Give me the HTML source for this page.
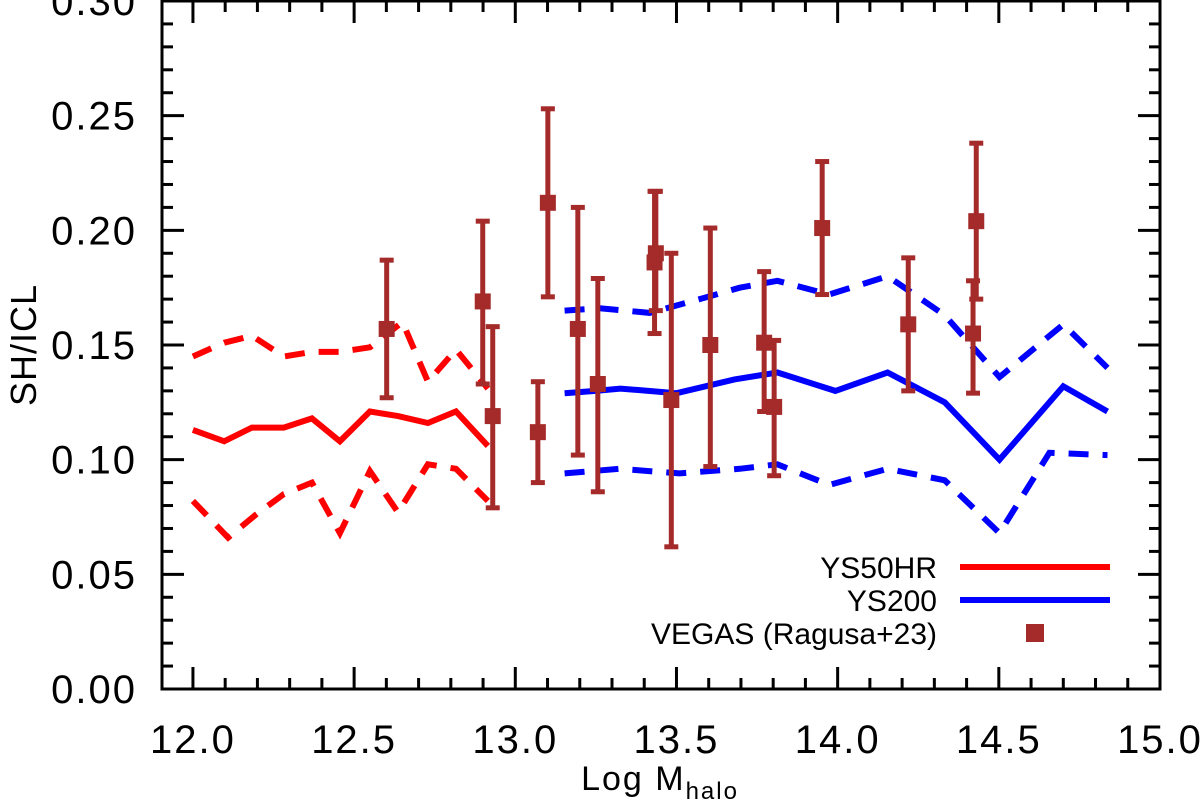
<!DOCTYPE html>
<html><head><meta charset="utf-8"><style>
html,body{margin:0;padding:0;background:#fff;}
svg{display:block;font-family:"Liberation Sans","DejaVu Sans",sans-serif;}
</style></head><body>
<svg id="chart" width="1200" height="804" viewBox="0 0 1200 804" xmlns="http://www.w3.org/2000/svg">
<g id="grid"></g>
<g id="series"></g>
<rect x="162" y="1" width="998" height="688" fill="none" stroke="#000" stroke-width="3"/>
<g id="ticks"></g>
<text x="0" y="0" transform="translate(36,345) rotate(-90)" text-anchor="middle" font-size="36" letter-spacing="1">SH/ICL</text>
<text x="660" y="790" text-anchor="middle" font-size="34" letter-spacing="2">Log M<tspan font-size="24" dy="9">halo</tspan></text>
<g>
<text x="937" y="578" text-anchor="end" font-size="30">YS50HR</text>
<line x1="960" y1="567" x2="1110" y2="567" stroke="#ff0000" stroke-width="6"/>
<text x="937" y="611" text-anchor="end" font-size="30">YS200</text>
<line x1="960" y1="600" x2="1110" y2="600" stroke="#0000ff" stroke-width="6"/>
<text x="937" y="644" text-anchor="end" font-size="30">VEGAS (Ragusa+23)</text>
<rect x="1026" y="624" width="18" height="18" fill="#a52a2a"/>
</g>
</svg>
<script>
const xTicks=[12.0,12.5,13.0,13.5,14.0,14.5,15.0];
const xTickLabels=["12.0","12.5","13.0","13.5","14.0","14.5","15.0"];
const yTicks=[0,0.05,0.10,0.15,0.20,0.25,0.30];
const yTickLabels=["0.00","0.05","0.10","0.15","0.20","0.25","0.30"];

const redX=[12.0,12.097,12.183,12.282,12.369,12.456,12.549,12.636,12.729,12.816,12.915];
const redMid=[0.113,0.108,0.114,0.114,0.118,0.108,0.121,0.119,0.116,0.121,0.106];
const redHiX=[12.0,12.097,12.183,12.282,12.369,12.456,12.549,12.65,12.729,12.816,12.915];
const redHi=[0.145,0.151,0.154,0.145,0.147,0.147,0.149,0.160,0.134,0.148,0.131];
const redLoX=[12.0,12.109,12.195,12.282,12.369,12.456,12.549,12.636,12.729,12.816,12.915];
const redLo=[0.082,0.066,0.076,0.085,0.090,0.068,0.095,0.077,0.098,0.096,0.082];

const blueX=[13.153,13.249,13.326,13.413,13.5,13.59,13.68,13.813,13.993,14.155,14.332,14.502,14.70,14.837];
const blueMid=[0.129,0.130,0.131,0.130,0.129,0.132,0.135,0.138,0.130,0.138,0.125,0.100,0.132,0.121];
const blueHiX=[13.153,13.262,13.417,13.572,13.696,13.813,13.974,14.155,14.332,14.502,14.70,14.837];
const blueHi=[0.165,0.166,0.164,0.170,0.175,0.178,0.172,0.180,0.163,0.136,0.159,0.140];
const blueLoX=[13.153,13.323,13.509,13.696,13.813,13.974,14.155,14.332,14.502,14.657,14.837];
const blueLo=[0.094,0.096,0.094,0.096,0.098,0.089,0.096,0.091,0.068,0.103,0.102];

const obsX=[12.601,12.899,12.93,13.07,13.101,13.194,13.256,13.432,13.436,13.484,13.605,13.772,13.803,13.952,14.219,14.42,14.43];
const obsY=[0.157,0.169,0.119,0.112,0.212,0.157,0.133,0.186,0.190,0.126,0.150,0.151,0.123,0.201,0.159,0.155,0.204];
const obsLo=[0.127,0.133,0.079,0.090,0.171,0.102,0.086,0.155,0.165,0.062,0.097,0.121,0.093,0.172,0.130,0.129,0.170];
const obsHi=[0.187,0.204,0.158,0.134,0.253,0.210,0.179,0.217,0.217,0.190,0.201,0.182,0.152,0.230,0.188,0.178,0.238];

const NS="http://www.w3.org/2000/svg";
const X0=162,X1=1160,Y0=689,Y1=1,XMIN=11.904,XMAX=15.0,YMIN=0,YMAX=0.30;
function sx(v){return X0+(v-XMIN)/(XMAX-XMIN)*(X1-X0);}
function sy(v){return Y0-(v-YMIN)/(YMAX-YMIN)*(Y0-Y1);}
function mk(tag,attrs,parent){const e=document.createElementNS(NS,tag);for(const k in attrs)e.setAttribute(k,attrs[k]);parent.appendChild(e);return e;}
const ticks=document.getElementById('ticks'),series=document.getElementById('series');

for(let i=0;i<=31;i++){const v=11.9+i*0.1;if(v<XMIN-1e-6||v>XMAX+1e-6)continue;
 const major=Math.abs(v*2-Math.round(v*2))<1e-6;const L=major?22:11;const x=sx(v);
 const t=mk('line',{x1:x,x2:x,y1:Y0,y2:Y0-L,stroke:'#000','stroke-width':3},ticks);
 
 
 const t2=mk('line',{x1:x,x2:x,y1:Y1,y2:Y1+L,stroke:'#000','stroke-width':3},ticks);
 
 }
xTicks.forEach((v,i)=>{const t=mk('text',{x:sx(v),y:753,'text-anchor':'middle','font-size':40,'letter-spacing':2},ticks);t.textContent=xTickLabels[i];
 
 });
for(let i=0;i<=30;i++){const v=i*0.01;const major=i%5===0;const L=major?22:11;const y=sy(v);
 const t=mk('line',{x1:X0,x2:X0+L,y1:y,y2:y,stroke:'#000','stroke-width':3},ticks);
 
 
 const t2=mk('line',{x1:X1,x2:X1-L,y1:y,y2:y,stroke:'#000','stroke-width':3},ticks);
 
 }
yTicks.forEach((v,i)=>{const t=mk('text',{x:137,y:sy(v)+14,'text-anchor':'end','font-size':40,'letter-spacing':2},ticks);t.textContent=yTickLabels[i];
 
 });

function line(xs,ys,color,dash,name){const p=xs.map((x,i)=>sx(x).toFixed(1)+','+sy(ys[i]).toFixed(1)).join(' ');
 const e=mk('polyline',{points:p,fill:'none',stroke:color,'stroke-width':6,'stroke-linejoin':'miter'},series);
 if(dash)e.setAttribute('stroke-dasharray','20 14');
 
 }
line(redX,redMid,'#ff0000',false,'ys50hr-median-line');
line(redHiX,redHi,'#ff0000',true,'ys50hr-upper-dashed');
line(redLoX,redLo,'#ff0000',true,'ys50hr-lower-dashed');
line(blueX,blueMid,'#0000ff',false,'ys200-median-line');
line(blueHiX,blueHi,'#0000ff',true,'ys200-upper-dashed');
line(blueLoX,blueLo,'#0000ff',true,'ys200-lower-dashed');

const C='#a52a2a';
obsX.forEach((v,i)=>{const x=sx(v);const g=mk('g',{},series);
 
 
 mk('line',{x1:x,x2:x,y1:sy(obsLo[i]),y2:sy(obsHi[i]),stroke:C,'stroke-width':5},g);
 mk('line',{x1:x-7,x2:x+7,y1:sy(obsLo[i]),y2:sy(obsLo[i]),stroke:C,'stroke-width':5},g);
 mk('line',{x1:x-7,x2:x+7,y1:sy(obsHi[i]),y2:sy(obsHi[i]),stroke:C,'stroke-width':5},g);
 mk('rect',{x:x-8,y:sy(obsY[i])-8,width:16,height:16,fill:C},g);});
</script>
</body></html>
